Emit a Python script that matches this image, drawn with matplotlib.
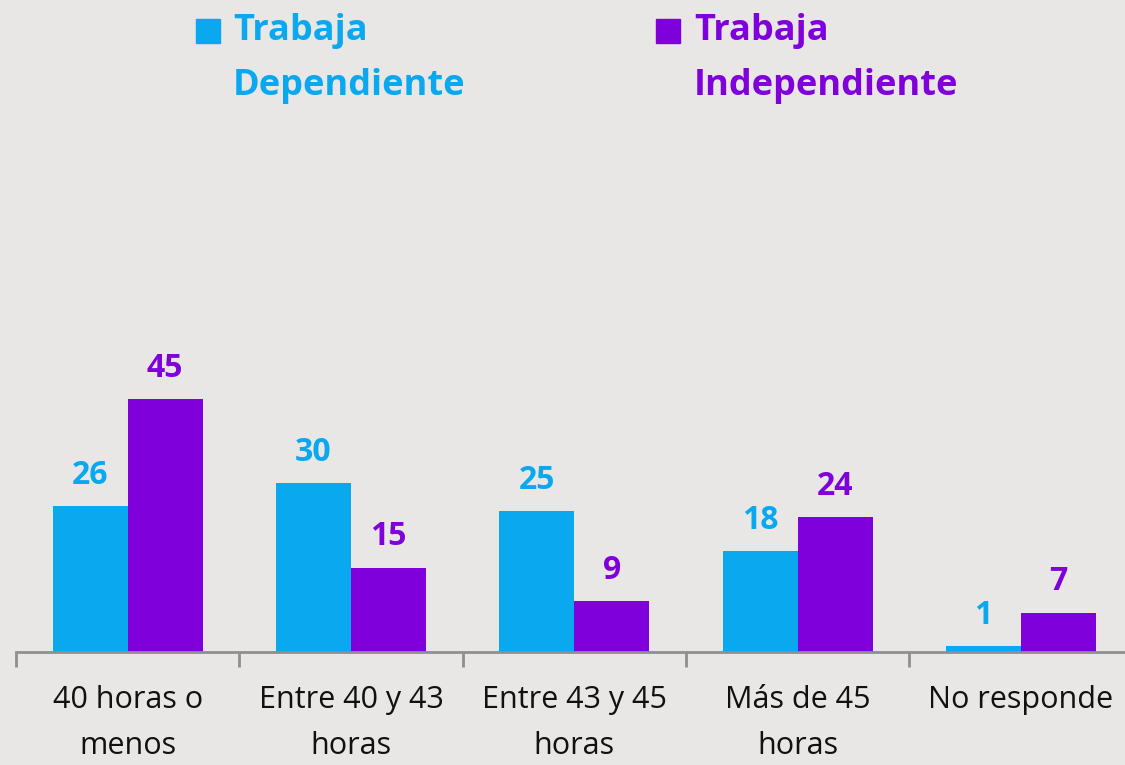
import numpy as np
import matplotlib.pyplot as plt
from matplotlib.patches import Rectangle

# Datos
categorias = ["40 horas o\nmenos", "Entre 40 y 43\nhoras", "Entre 43 y 45\nhoras",
              "Más de 45\nhoras", "No responde"]
dependiente = [26, 30, 25, 18, 1]
independiente = [45, 15, 9, 24, 7]
series = ["Trabaja\nDependiente", "Trabaja\nIndependiente"]

azul = "#0aa8ee"
morado = "#7f00db"
fondo = "#e8e7e5"
gris = "#8f8f8f"

plt.rcParams['font.family'] = ['Open Sans', 'DejaVu Sans']

fig = plt.figure(figsize=(11.25, 7.65), dpi=100, facecolor=fondo)
ax = fig.add_axes([16 / 1125, 113 / 765, 1116.5 / 1125, 652 / 765])
ax.set_facecolor(fondo)

x = np.arange(len(categorias))
w = 0.336
b1 = ax.bar(x - w / 2, dependiente, w, color=azul)
b2 = ax.bar(x + w / 2, independiente, w, color=morado)

for bars, vals, col in [(b1, dependiente, azul), (b2, independiente, morado)]:
    for r, v in zip(bars, vals):
        ax.annotate(str(v), (r.get_x() + r.get_width() / 2, v), xytext=(0, 16),
                    textcoords="offset points", ha="center", va="baseline",
                    fontsize=23, fontweight="bold", color=col)

ax.set_xlim(-0.5, 4.5)
ax.set_ylim(0, 116)

for s in ["top", "right", "left"]:
    ax.spines[s].set_visible(False)
ax.spines["bottom"].set_color(gris)
ax.spines["bottom"].set_linewidth(2)
ax.set_yticks([])

ax.set_xticks(x)
ax.set_xticklabels(categorias, fontsize=22, color="#111111", linespacing=1.7)
ax.tick_params(axis="x", which="major", length=0, pad=24)
ax.set_xticks(np.arange(-0.5, 4.6, 1), minor=True)
ax.tick_params(axis="x", which="minor", length=11, width=2, color=gris)

# Leyenda manual
for (sx, tx, col, lab) in [(196, 233, azul, series[0]), (656, 694, morado, series[1])]:
    fig.patches.append(Rectangle((sx / 1125, 1 - 43 / 765), 24 / 1125, 24 / 765,
                                 transform=fig.transFigure, color=col))
    fig.text(tx / 1125, 1 - 13 / 765, lab, fontsize=26, fontweight="bold", color=col,
             ha="left", va="top", linespacing=1.72)

fig.savefig("out.png", dpi=100, facecolor=fondo)
